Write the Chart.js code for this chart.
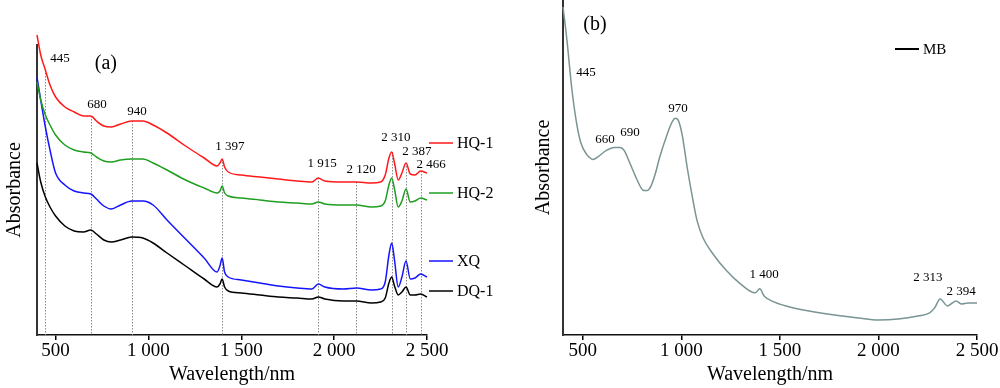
<!DOCTYPE html>
<html>
<head>
<meta charset="utf-8">
<script src="https://cdn.jsdelivr.net/npm/chart.js@4.4.1/dist/chart.umd.min.js"></script>
<style>
    html, body { margin: 0; padding: 0; background: #fff; }
    #wrap { position: relative; width: 1000px; height: 388px; overflow: hidden; }
    #box-a { position: absolute; left: 0; top: 0; }
    #box-b { position: absolute; left: 529px; top: 0; }
</style>
</head>
<body>
<div id="wrap">
    <div id="box-a"><canvas id="chart-a" width="500" height="388"></canvas></div>
    <div id="box-b"><canvas id="chart-b" width="471" height="388"></canvas></div>
</div>
<script>
// ---- panel (a): four spectra ----
var wavelengthsA = [400, 420, 445, 470, 500, 550, 600, 650, 690, 720, 760, 800, 850, 910, 970,
    1025, 1100, 1200, 1300, 1370, 1385, 1397, 1410, 1430, 1500, 1600, 1700, 1800, 1880, 1915,
    1950, 2050, 2120, 2200, 2250, 2275, 2295, 2310, 2325, 2345, 2365, 2387, 2410, 2435, 2466, 2500];
var hq1 = [3.00, 2.80, 2.65, 2.50, 2.38, 2.28, 2.23, 2.19, 2.19, 2.14, 2.09, 2.08, 2.11, 2.14, 2.14,
    2.10, 2.02, 1.89, 1.77, 1.69, 1.72, 1.76, 1.68, 1.63, 1.60, 1.58, 1.56, 1.54, 1.53, 1.57,
    1.54, 1.53, 1.53, 1.52, 1.53, 1.60, 1.77, 1.83, 1.72, 1.55, 1.62, 1.72, 1.61, 1.60, 1.64, 1.62];
var hq2 = [2.53, 2.35, 2.20, 2.10, 2.00, 1.90, 1.85, 1.83, 1.82, 1.78, 1.74, 1.73, 1.75, 1.76, 1.76,
    1.72, 1.65, 1.55, 1.47, 1.42, 1.44, 1.49, 1.42, 1.39, 1.37, 1.35, 1.33, 1.32, 1.31, 1.33,
    1.31, 1.30, 1.30, 1.28, 1.29, 1.34, 1.50, 1.57, 1.46, 1.28, 1.34, 1.46, 1.33, 1.34, 1.37, 1.35];
var xq = [2.58, 2.35, 2.08, 1.85, 1.62, 1.50, 1.44, 1.42, 1.41, 1.36, 1.29, 1.26, 1.30, 1.34, 1.34,
    1.30, 1.15, 0.96, 0.77, 0.63, 0.69, 0.77, 0.63, 0.58, 0.55, 0.52, 0.49, 0.47, 0.46, 0.51,
    0.48, 0.46, 0.47, 0.45, 0.46, 0.53, 0.80, 0.92, 0.75, 0.48, 0.58, 0.74, 0.56, 0.57, 0.61, 0.58];
var dq1 = [1.72, 1.53, 1.38, 1.28, 1.19, 1.09, 1.04, 1.03, 1.05, 1.01, 0.95, 0.93, 0.95, 0.98, 0.97,
    0.92, 0.82, 0.69, 0.56, 0.48, 0.51, 0.56, 0.48, 0.44, 0.42, 0.40, 0.38, 0.37, 0.36, 0.38,
    0.36, 0.34, 0.34, 0.32, 0.33, 0.37, 0.52, 0.58, 0.49, 0.40, 0.43, 0.48, 0.40, 0.40, 0.41, 0.38];
var seriesNamesA = ['HQ-1', 'HQ-2', 'XQ', 'DQ-1'];
var guideWavelengthsA = [445, 690, 910, 1397, 1915, 2120, 2310, 2387, 2466];
var peakTextsA = ['445', '680', '940', '1 397', '1 915', '2 120', '2 310', '2 387', '2 466'];

// ---- panel (b): MB spectrum ----
var wavelengthsB = [400, 420, 445, 470, 490, 520, 535, 550, 565, 580, 620, 660, 690, 710, 740,
    775, 795, 810, 825, 845, 870, 890, 930, 955, 970, 985, 1005, 1030, 1055, 1080,
    1110, 1160, 1230, 1300, 1375, 1398, 1420, 1470, 1570, 1740, 1900, 2000, 2100, 2200, 2260,
    2285, 2313, 2350, 2394, 2420, 2455, 2500];
var mb = [3.27, 2.94, 2.45, 2.10, 1.92, 1.80, 1.77, 1.75, 1.76, 1.78, 1.84, 1.87, 1.87, 1.84, 1.71,
    1.55, 1.47, 1.44, 1.44, 1.48, 1.62, 1.77, 2.01, 2.13, 2.16, 2.14, 1.99, 1.67, 1.39, 1.14,
    0.97, 0.81, 0.64, 0.51, 0.42, 0.46, 0.39, 0.33, 0.27, 0.21, 0.17, 0.15, 0.16, 0.19, 0.22,
    0.27, 0.36, 0.29, 0.34, 0.31, 0.32, 0.32];
var peakTextsB = ['445', '660', '690', '970', '1 400', '2 313', '2 394'];

var tickValues = [500, 1000, 1500, 2000, 2500];

// where the texts sit, in axis units
var peakSpotsA = [[524, 2.76], [723, 2.30], [938, 2.23], [1439, 1.88], [1935, 1.71],
    [2145, 1.65], [2333, 1.97], [2446, 1.83], [2522, 1.70]];
var peakSpotsB = [[517, 2.62], [613, 1.95], [740, 2.02], [983, 2.26], [1420, 0.60],
    [2251, 0.57], [2419, 0.43]];

var SERIF = "'Liberation Serif', 'Times New Roman', serif";

function formatTick(v) {
    if (v < 1000) return String(v);
    var rest = String(v % 1000);
    while (rest.length < 3) rest = '0' + rest;
    return Math.floor(v / 1000) + ' ' + rest;
}

function toPoints(xs, ys) {
    return xs.map(function(x, i) { return { x: x, y: ys[i] }; });
}

var annotationPlugin = {
    id: 'annot',
    beforeDatasetsDraw: function(chart, args, opts) {
        var ctx = chart.ctx, xs = chart.scales.x, ys = chart.scales.y;
        ctx.save();
        ctx.strokeStyle = '#8a8a8a';
        ctx.lineWidth = 1;
        ctx.setLineDash([1.5, 1.5]);
        (opts.guides || []).forEach(function(g) {
            var x = Math.round(xs.getPixelForValue(g[0])) + 0.5;
            ctx.beginPath();
            ctx.moveTo(x, ys.getPixelForValue(g[1]));
            ctx.lineTo(x, ys.getPixelForValue(ys.min));
            ctx.stroke();
        });
        ctx.restore();
    },
    afterDatasetsDraw: function(chart, args, opts) {
        var ctx = chart.ctx, xs = chart.scales.x, ys = chart.scales.y;
        ctx.save();
        ctx.fillStyle = '#000';
        ctx.textAlign = 'center';
        ctx.textBaseline = 'middle';
        (opts.texts || []).forEach(function(t) {
            ctx.font = t.size + 'px ' + SERIF;
            ctx.fillText(t.text, xs.getPixelForValue(t.x), ys.getPixelForValue(t.y));
        });
        ctx.textAlign = 'left';
        (opts.legend || []).forEach(function(l) {
            ctx.strokeStyle = l.color;
            ctx.lineWidth = l.width;
            ctx.beginPath();
            ctx.moveTo(l.x0, l.y);
            ctx.lineTo(l.x1, l.y);
            ctx.stroke();
            ctx.font = l.size + 'px ' + SERIF;
            ctx.fillStyle = '#000';
            ctx.fillText(l.text, l.x1 + 4, l.y + 1);
        });
        ctx.restore();
    }
};

function baseScales(yMax, yWidth) {
    return {
        x: {
            type: 'linear',
            min: 400,
            max: 2500,
            afterBuildTicks: function(s) {
                s.ticks = tickValues.map(function(v) { return { value: v }; });
            },
            afterFit: function(s) { s.height = 52; },
            ticks: {
                callback: formatTick,
                color: '#000',
                padding: 0,
                maxRotation: 0,
                autoSkip: false,
                font: { family: SERIF, size: 19 }
            },
            grid: {
                display: true,
                drawOnChartArea: false,
                drawTicks: true,
                tickLength: 5,
                color: '#000',
                lineWidth: 1.5
            },
            border: { color: '#111', width: 1.5 },
            title: {
                display: true,
                text: 'Wavelength/nm',
                color: '#000',
                padding: 0,
                font: { family: SERIF, size: 20 }
            }
        },
        y: {
            min: 0,
            max: yMax,
            afterFit: function(s) { s.width = yWidth; },
            ticks: { display: false },
            grid: { display: false },
            border: { color: '#333', width: 2 },
            title: {
                display: true,
                text: 'Absorbance',
                color: '#000',
                padding: 3,
                font: { family: SERIF, size: 20 }
            }
        }
    };
}

function lineSet(label, xs, ys, color, width) {
    return {
        label: label,
        data: toPoints(xs, ys),
        borderColor: color,
        borderWidth: width,
        pointRadius: 0,
        cubicInterpolationMode: 'monotone',
        clip: false
    };
}

function initChartA() {
    var canvas = document.getElementById('chart-a');
    var colors = ['#ff1a1a', '#1f9e1f', '#1414ff', '#000000'];
    var values = [hq1, hq2, xq, dq1];
    var legendY = [143, 193, 261, 291];

    var guides = guideWavelengthsA.map(function(w) {
        return [w, hq1[wavelengthsA.indexOf(w)]];
    });
    var texts = peakTextsA.map(function(t, i) {
        return { text: t, x: peakSpotsA[i][0], y: peakSpotsA[i][1], size: 13 };
    });
    texts.push({ text: '(a)', x: 771, y: 2.71, size: 20 });

    new Chart(canvas, {
        type: 'line',
        data: {
            datasets: values.map(function(v, i) {
                return lineSet(seriesNamesA[i], wavelengthsA, v, colors[i], 1.5);
            })
        },
        options: {
            responsive: false,
            animation: false,
            devicePixelRatio: 1,
            layout: { padding: { left: 0, right: 73, top: 45, bottom: 1 } },
            scales: baseScales(2.9, 37),
            plugins: {
                legend: { display: false },
                tooltip: { enabled: false },
                annot: {
                    guides: guides,
                    texts: texts,
                    legend: seriesNamesA.map(function(n, i) {
                        return { text: n, color: colors[i], width: 1.5, x0: 429, x1: 453, y: legendY[i], size: 16 };
                    })
                }
            }
        },
        plugins: [annotationPlugin]
    });
}

function initChartB() {
    var canvas = document.getElementById('chart-b');
    var texts = peakTextsB.map(function(t, i) {
        return { text: t, x: peakSpotsB[i][0], y: peakSpotsB[i][1], size: 13 };
    });
    texts.push({ text: '(b)', x: 562, y: 3.09, size: 20 });

    new Chart(canvas, {
        type: 'line',
        data: {
            datasets: [lineSet('MB', wavelengthsB, mb, '#7a9494', 1.5)]
        },
        options: {
            responsive: false,
            animation: false,
            devicePixelRatio: 1,
            layout: { padding: { left: 0, right: 23, top: 0, bottom: 1 } },
            scales: baseScales(3.34, 34),
            plugins: {
                legend: { display: false },
                tooltip: { enabled: false },
                annot: {
                    texts: texts,
                    legend: [{ text: 'MB', color: '#000', width: 2, x0: 366, x1: 390, y: 49, size: 15 }]
                }
            }
        },
        plugins: [annotationPlugin]
    });
}

initChartA();
initChartB();
</script>
</body>
</html>
